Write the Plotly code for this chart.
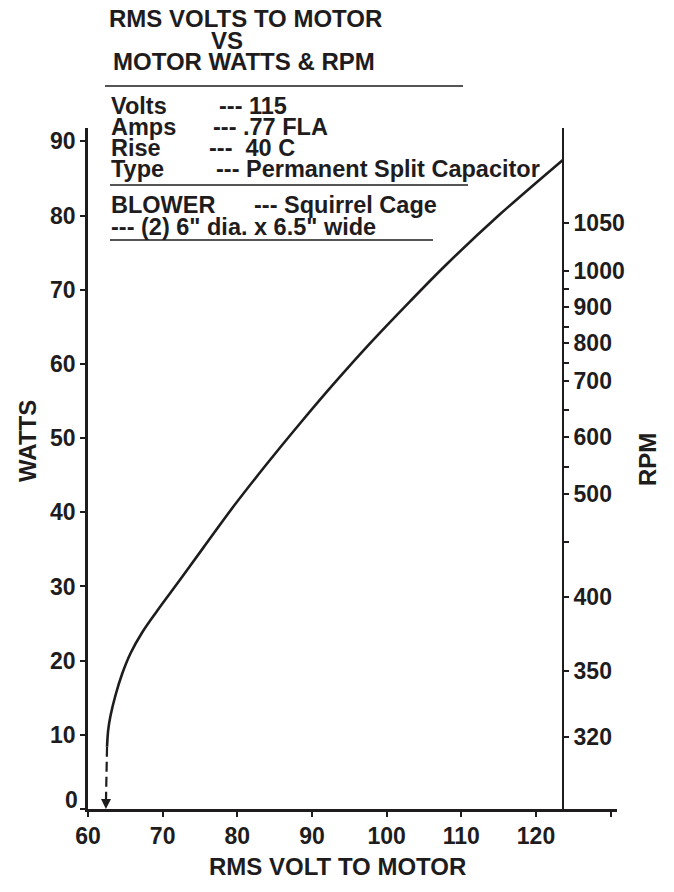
import plotly.graph_objects as go

# ---- data ----
volts = [62.55, 62.7, 63.0, 63.7, 64.6, 65.7, 67.25, 69.25, 72.4, 75.5, 79.5,
         83.7, 88.5, 92.9, 97.8, 103.1, 108.0, 115.1, 123.6]
watts = [8.4, 10.6, 12.5, 15.4, 18.3, 21.0, 23.8, 26.7, 31.0, 35.3, 40.8,
         46.2, 52.1, 57.3, 62.8, 68.4, 73.4, 80.1, 87.5]
dash_volts = [62.55, 62.4]
dash_watts = [8.4, 0.8]

volt_ticks = [60, 70, 80, 90, 100, 110, 120, 130]
volt_labels = ["60", "70", "80", "90", "100", "110", "120", ""]
watt_ticks = [0, 10, 20, 30, 40, 50, 60, 70, 80, 90]
watt_labels = ["", "10", "20", "30", "40", "50", "60", "70", "80", "90"]
zero_label = "0"

rpm_axis_volts = 123.6
rpm_watts = [79.0, 72.5, 70.1, 67.7, 65.0, 62.8, 60.1, 57.7, 53.8, 50.2,
             46.1, 42.5, 36.0, 28.6, 18.6, 9.7]
rpm_labels = ["1050", "1000", "", "900", "", "800", "", "700", "", "600",
              "", "500", "", "400", "350", "320"]

title_lines = ["RMS VOLTS TO MOTOR", "VS", "MOTOR WATTS & RPM"]
spec_names = ["Volts", "Amps", "Rise", "Type"]
spec_values = ["--- 115", "--- .77 FLA", "---\u00a0\u00a040 C", "--- Permanent Split Capacitor"]
blower_lines = ["BLOWER", "--- Squirrel Cage", "--- (2) 6\" dia. x 6.5\" wide"]

# ---- layout geometry (pixels) ----
W, H = 674, 892
L, R, T, B = 88, 617, 128, 809
XMAX = 130.85
YMAX = 91.8
INK = "#1e1c1d"
FONT = "Arial, Liberation Sans, Helvetica, sans-serif"


def px(x):
    return (x - L) / (R - L)


def py(y):
    return (B - y) / (B - T)


fig = go.Figure()

fig.add_trace(go.Scatter(x=volts, y=watts, mode="lines",
                         line=dict(color=INK, width=2.6, shape="spline", smoothing=1.0),
                         hoverinfo="skip", showlegend=False))
fig.add_trace(go.Scatter(x=dash_volts, y=dash_watts, mode="lines",
                         line=dict(color=INK, width=2.2, dash="10px,5px"),
                         hoverinfo="skip", showlegend=False))
# invisible trace to carry the RPM axis
fig.add_trace(go.Scatter(x=[rpm_axis_volts] * len(rpm_watts), y=rpm_watts, yaxis="y2",
                         mode="markers", marker=dict(opacity=0), hoverinfo="skip",
                         showlegend=False))

tickfont = dict(family=FONT, size=23, color=INK, weight="bold")
textfont = dict(family=FONT, size=24, color=INK, weight="bold")
boxfont = dict(family=FONT, size=23.5, color=INK, weight="bold")

fig.update_layout(
    width=W, height=H, autosize=False,
    margin=dict(l=L, r=W - R, t=T, b=H - B, pad=0),
    paper_bgcolor="white", plot_bgcolor="white",
    xaxis=dict(range=[60, XMAX], tickvals=volt_ticks, ticktext=volt_labels,
               showline=True, linecolor=INK, linewidth=2.5, ticks="outside",
               ticklen=5, tickwidth=2, tickcolor=INK, tickfont=tickfont,
               showgrid=False, zeroline=False),
    yaxis=dict(range=[0, YMAX], tickvals=watt_ticks, ticktext=watt_labels,
               showline=True, linecolor=INK, linewidth=2.5, ticks="outside",
               ticklen=5, tickwidth=2, tickcolor=INK, tickfont=tickfont,
               showgrid=False, zeroline=False),
    yaxis2=dict(range=[0, YMAX], overlaying="y", anchor="free",
                position=(rpm_axis_volts - 60) / (XMAX - 60), side="right",
                tickvals=rpm_watts, ticktext=rpm_labels,
                showline=True, linecolor=INK, linewidth=2.2, ticks="outside",
                ticklen=5, tickwidth=2, tickcolor=INK, tickfont=tickfont,
                showgrid=False, zeroline=False),
)

ann = []


def text(x, y, s, anchor="left", angle=0, font=textfont):
    ann.append(dict(xref="paper", yref="paper", x=px(x), y=py(y), text=s,
                    xanchor=anchor, yanchor="middle", showarrow=False,
                    textangle=angle, font=font, borderpad=0))


text(108, 18, title_lines[0])
text(210, 40, title_lines[1])
text(112, 62, title_lines[2])

spec_y = [106, 127, 148, 169]
spec_x = [218, 212, 208, 215]
for name, val, yy, xx in zip(spec_names, spec_values, spec_y, spec_x):
    text(110, yy, name, font=boxfont)
    text(xx, yy, val, font=boxfont)

text(110, 205, blower_lines[0], font=boxfont)
text(253, 205, blower_lines[1], font=boxfont)
text(110, 227, blower_lines[2], font=boxfont)

text(337, 866, "RMS VOLT TO MOTOR", anchor="center")
text(27, 441, "WATTS", anchor="center", angle=-90)
text(647, 460, "RPM", anchor="center", angle=-90)
text(79, 800, zero_label, anchor="right", font=tickfont)

# arrow head at the end of the dashed segment
ann.append(dict(xref="x", yref="y", axref="x", ayref="y", x=62.4, y=0.0,
                ax=62.42, ay=2.2, text="", showarrow=True, arrowhead=2,
                arrowsize=1, arrowwidth=2, arrowcolor=INK))

fig.update_layout(annotations=ann)

shapes = []
for x0, x1, yy in [(105, 463, 86), (110, 468, 185), (110, 433, 240)]:
    shapes.append(dict(type="line", xref="paper", yref="paper",
                       x0=px(x0), x1=px(x1), y0=py(yy), y1=py(yy),
                       line=dict(color=INK, width=1.5)))
fig.update_layout(shapes=shapes)

fig.write_html("out.html")
